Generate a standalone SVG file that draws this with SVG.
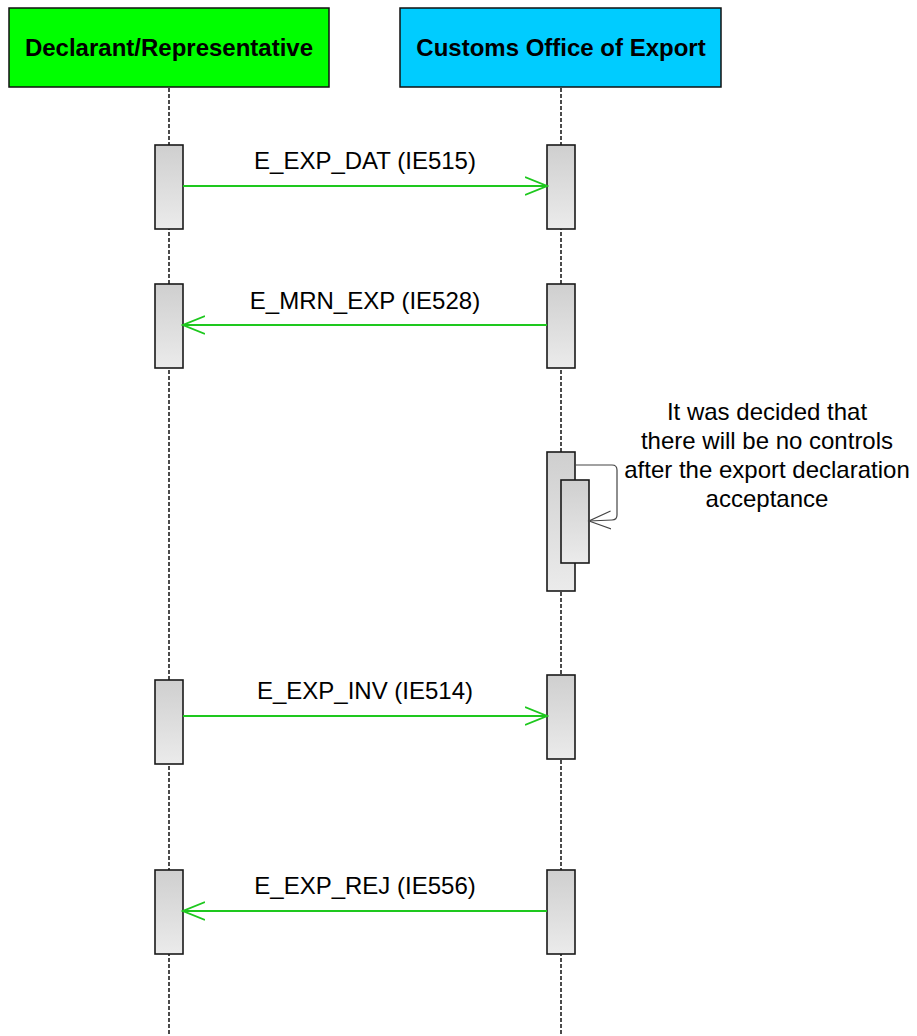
<svg xmlns="http://www.w3.org/2000/svg" width="917" height="1036" viewBox="0 0 917 1036">
<defs>
<linearGradient id="act" x1="0" y1="0" x2="0" y2="1">
<stop offset="0" stop-color="#cfcfcf"/>
<stop offset="1" stop-color="#ebebeb"/>
</linearGradient>
<marker id="open" viewBox="0 0 24 20" refX="22" refY="10" markerWidth="24" markerHeight="20" markerUnits="userSpaceOnUse" orient="auto">
<path d="M0,1 L22,10 L0,19" fill="none" stroke="#1ec81e" stroke-width="1.8"/>
</marker>
<marker id="openGray" viewBox="0 0 24 20" refX="22" refY="10" markerWidth="24" markerHeight="20" markerUnits="userSpaceOnUse" orient="auto">
<path d="M0,1 L22,10 L0,19" fill="none" stroke="#444444" stroke-width="1.2"/>
</marker>
</defs>
<style>
.hdr{stroke:#111;stroke-width:1.5}
.hdrtxt{font-family:"Liberation Sans",Arial,sans-serif;font-weight:bold;font-size:24px;fill:#000;text-anchor:middle}
.life{stroke:#111;stroke-width:1.5;stroke-dasharray:4 2;fill:none}
.act{fill:url(#act);stroke:#1a1a1a;stroke-width:1.6}
.msg{stroke:#1ec81e;stroke-width:1.8;fill:none;marker-end:url(#open)}
.self{stroke:#444;stroke-width:1.2;fill:none;marker-end:url(#openGray)}
.lbl{font-family:"Liberation Sans",Arial,sans-serif;font-size:24px;fill:#000;text-anchor:middle}
</style>
<rect width="917" height="1036" fill="#fff"/>
<g id="lifelines">
<line class="life" x1="169" y1="88" x2="169" y2="1036"/>
<line class="life" x1="561" y1="88" x2="561" y2="1036"/>
</g>
<g id="declarant">
<rect class="hdr" x="9" y="8" width="320" height="79" fill="#00ff00"/>
<text class="hdrtxt" x="169" y="56">Declarant/Representative</text>
</g>
<g id="customs">
<rect class="hdr" x="400" y="8" width="321" height="79" fill="#00ccff"/>
<text class="hdrtxt" x="561" y="56">Customs Office of Export</text>
</g>
<g id="activations">
<rect class="act" x="155" y="145" width="28" height="84"/>
<rect class="act" x="547" y="145" width="28" height="84"/>
<rect class="act" x="155" y="284" width="28" height="84"/>
<rect class="act" x="547" y="284" width="28" height="84"/>
<rect class="act" x="547" y="452" width="28" height="139"/>
<rect class="act" x="561" y="480" width="28" height="83"/>
<rect class="act" x="155" y="680" width="28" height="84"/>
<rect class="act" x="547" y="675" width="28" height="84"/>
<rect class="act" x="155" y="870" width="28" height="84"/>
<rect class="act" x="547" y="870" width="28" height="84"/>
</g>
<g id="connectors">
<line class="msg" x1="183" y1="186" x2="547" y2="186"/>
<line class="msg" x1="547" y1="325" x2="183" y2="325"/>
<path class="self" d="M575,465 H612 Q617,465 617,470 V515 Q617,520 612,520 L589,521"/>
<line class="msg" x1="183" y1="716" x2="547" y2="716"/>
<line class="msg" x1="547" y1="911" x2="183" y2="911"/>
</g>
<g id="labels">
<text class="lbl" x="365" y="169">E_EXP_DAT (IE515)</text>
<text class="lbl" x="365" y="309">E_MRN_EXP (IE528)</text>
<text class="lbl" x="365" y="699">E_EXP_INV (IE514)</text>
<text class="lbl" x="365" y="894">E_EXP_REJ (IE556)</text>
</g>
<g id="note">
<text class="lbl" x="767" y="420">It was decided that</text>
<text class="lbl" x="767" y="449">there will be no controls</text>
<text class="lbl" x="767" y="478">after the export declaration</text>
<text class="lbl" x="767" y="507">acceptance</text>
</g>
</svg>
